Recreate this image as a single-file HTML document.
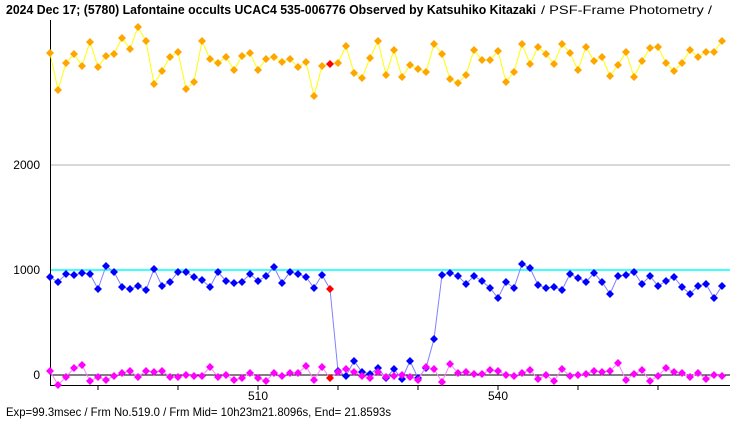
<!DOCTYPE html>
<html><head><meta charset="utf-8"><style>
body{margin:0;background:#fff;width:740px;height:425px;overflow:hidden}
svg{display:block}
text{font-family:"Liberation Sans","Noto Sans CJK JP",sans-serif;font-size:12px;fill:#000}
</style></head><body>
<svg id="s" width="740" height="425" xmlns="http://www.w3.org/2000/svg">
<rect width="740" height="425" fill="#fff"/>
<text x="6" y="14" style="font-weight:bold;font-size:12.5px" textLength="530" lengthAdjust="spacingAndGlyphs">2024 Dec 17; (5780) Lafontaine occults UCAC4 535-006776 Observed by Katsuhiko Kitazaki</text>
<text x="541" y="14" style="font-size:12px" textLength="171" lengthAdjust="spacingAndGlyphs">/ PSF-Frame Photometry /</text>
<line x1="50" y1="165" x2="730" y2="165" stroke="#b0b0b0" stroke-width="1"/>
<line x1="50" y1="270" x2="730" y2="270" stroke="#00ffff" stroke-width="1.5"/>
<line x1="50" y1="375" x2="730" y2="375" stroke="#000" stroke-width="1"/>
<line x1="50.5" y1="20" x2="50.5" y2="385" stroke="#000" stroke-width="1"/>
<line x1="50" y1="385.5" x2="730" y2="385.5" stroke="#000" stroke-width="1"/>
<text x="40" y="169" text-anchor="end">2000</text>
<text x="40" y="274" text-anchor="end">1000</text>
<text x="40" y="379" text-anchor="end">0</text>
<text x="258" y="400" text-anchor="middle">510</text>
<text x="498" y="400" text-anchor="middle">540</text>
<text x="6" y="416" textLength="385" lengthAdjust="spacingAndGlyphs">Exp=99.3msec / Frm No.519.0 / Frm Mid= 10h23m21.8096s,  End= 21.8593s</text>
<g id="g"></g>
</svg>
<script>
var O=[53,90,63,54,66,42,67,56,54,38,49,27,41,84,71,57,52,89,82,41,59,63,57,70,56,53,70,59,57,62,59,67,62,96,66,64,63,46,73,78,58,41,75,50,77,65,69,72,44,54,79,83,75,50,60,60,51,82,72,44,64,47,54,64,44,53,70,47,61,57,76,65,52,77,61,48,47,63,71,63,50,57,52,52,41];
var B=[277,282,274,275,273,274,289,266,272,287,289,286,290,269,286,282,272,272,277,280,287,272,281,283,282,274,281,276,267,283,272,274,277,288,275,289,371,376,361,372,374,368,378,369,379,361,378,368,339,275,273,276,284,276,281,288,298,282,288,264,268,285,288,287,290,274,278,282,273,282,294,276,275,272,284,276,286,281,277,287,294,286,284,298,286];
var M=[371,385,377,368,365,381,377,380,376,373,371,377,371,372,371,377,377,375,376,376,367,377,375,380,378,373,378,381,373,376,373,373,366,380,367,378,372,369,372,376,378,372,377,376,375,377,380,367,369,382,364,373,372,374,374,370,371,375,376,373,370,379,375,381,369,376,375,374,371,372,371,363,380,374,370,381,376,368,372,373,377,373,379,375,376];
var g=document.getElementById('g'),h='';
function ser(a,lc,mc,red){var p=a.map(function(y,i){return (50+8*i)+','+y}).join(' ');
h+='<polyline points="'+p+'" fill="none" stroke="'+lc+'" stroke-width="1"/>';
a.forEach(function(y,i){var x=50+8*i,c=(i==red)?'#ff0000':mc;
h+='<polygon points="'+x+','+(y-4)+' '+(x+4)+','+y+' '+x+','+(y+4)+' '+(x-4)+','+y+'" fill="'+c+'"/>';});}
ser(O,'#ffff00','#ffa500',35);ser(B,'#8080ff','#0000ff',35);ser(M,'#ff80ff','#ff00ff',35);
[98,178,258,338,418,498,578,658].forEach(function(x){h+='<line x1="'+x+'" y1="385" x2="'+x+'" y2="390" stroke="#000"/>'});
g.innerHTML=h;
</script>
</body></html>
